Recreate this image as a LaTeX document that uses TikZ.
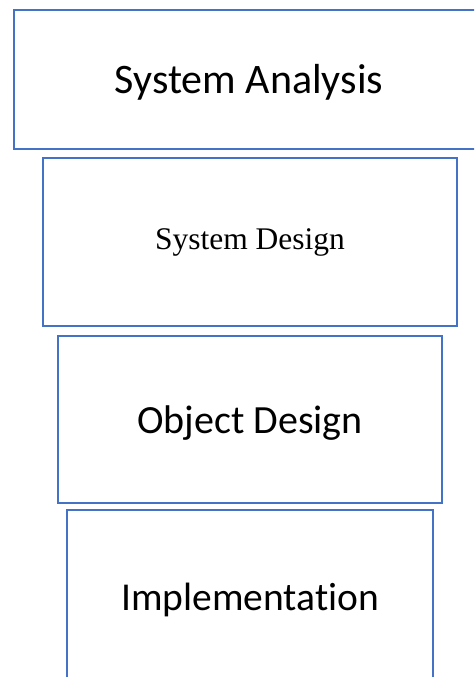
\documentclass[tikz,border=0pt]{standalone}
\usepackage{fontspec}
\setmainfont{Liberation Serif}
\newfontfamily\calibrifont[Ligatures=NoCommon]{Carlito}
\definecolor{boxblue}{HTML}{4472C4}
\tikzstyle{stagebox} = [draw=boxblue, fill=white, line width=2.6pt,
    rectangle, inner sep=0pt, align=center]
\tikzstyle{sanslabel} = [font=\calibrifont\fontsize{40}{46}\selectfont]

\begin{document}
\begin{tikzpicture}[x=1pt, y=-1pt]
    \useasboundingbox (0,0) rectangle (474,677);
    \clip (0,0) rectangle (474,677);
    \node [stagebox, font=\calibrifont\fontsize{42}{48}\selectfont, text height=35pt,
        minimum width=470pt, minimum height=139pt] (analysis) at (249,79.5) {System Analysis};
    \node [stagebox, font=\fontsize{31.5}{38}\selectfont,
        minimum width=414pt, minimum height=168pt] (design) at (250,242) {System Design};
    \node [stagebox, sanslabel, text height=35pt,
        minimum width=384pt, minimum height=167pt] (object) at (250,419.5) {Object Design};
    \node [stagebox, sanslabel, font=\calibrifont\fontsize{39.5}{46}\selectfont,
        minimum width=366pt, minimum height=180pt] (impl) at (250,600) {Implementation};
\end{tikzpicture}
\end{document}
